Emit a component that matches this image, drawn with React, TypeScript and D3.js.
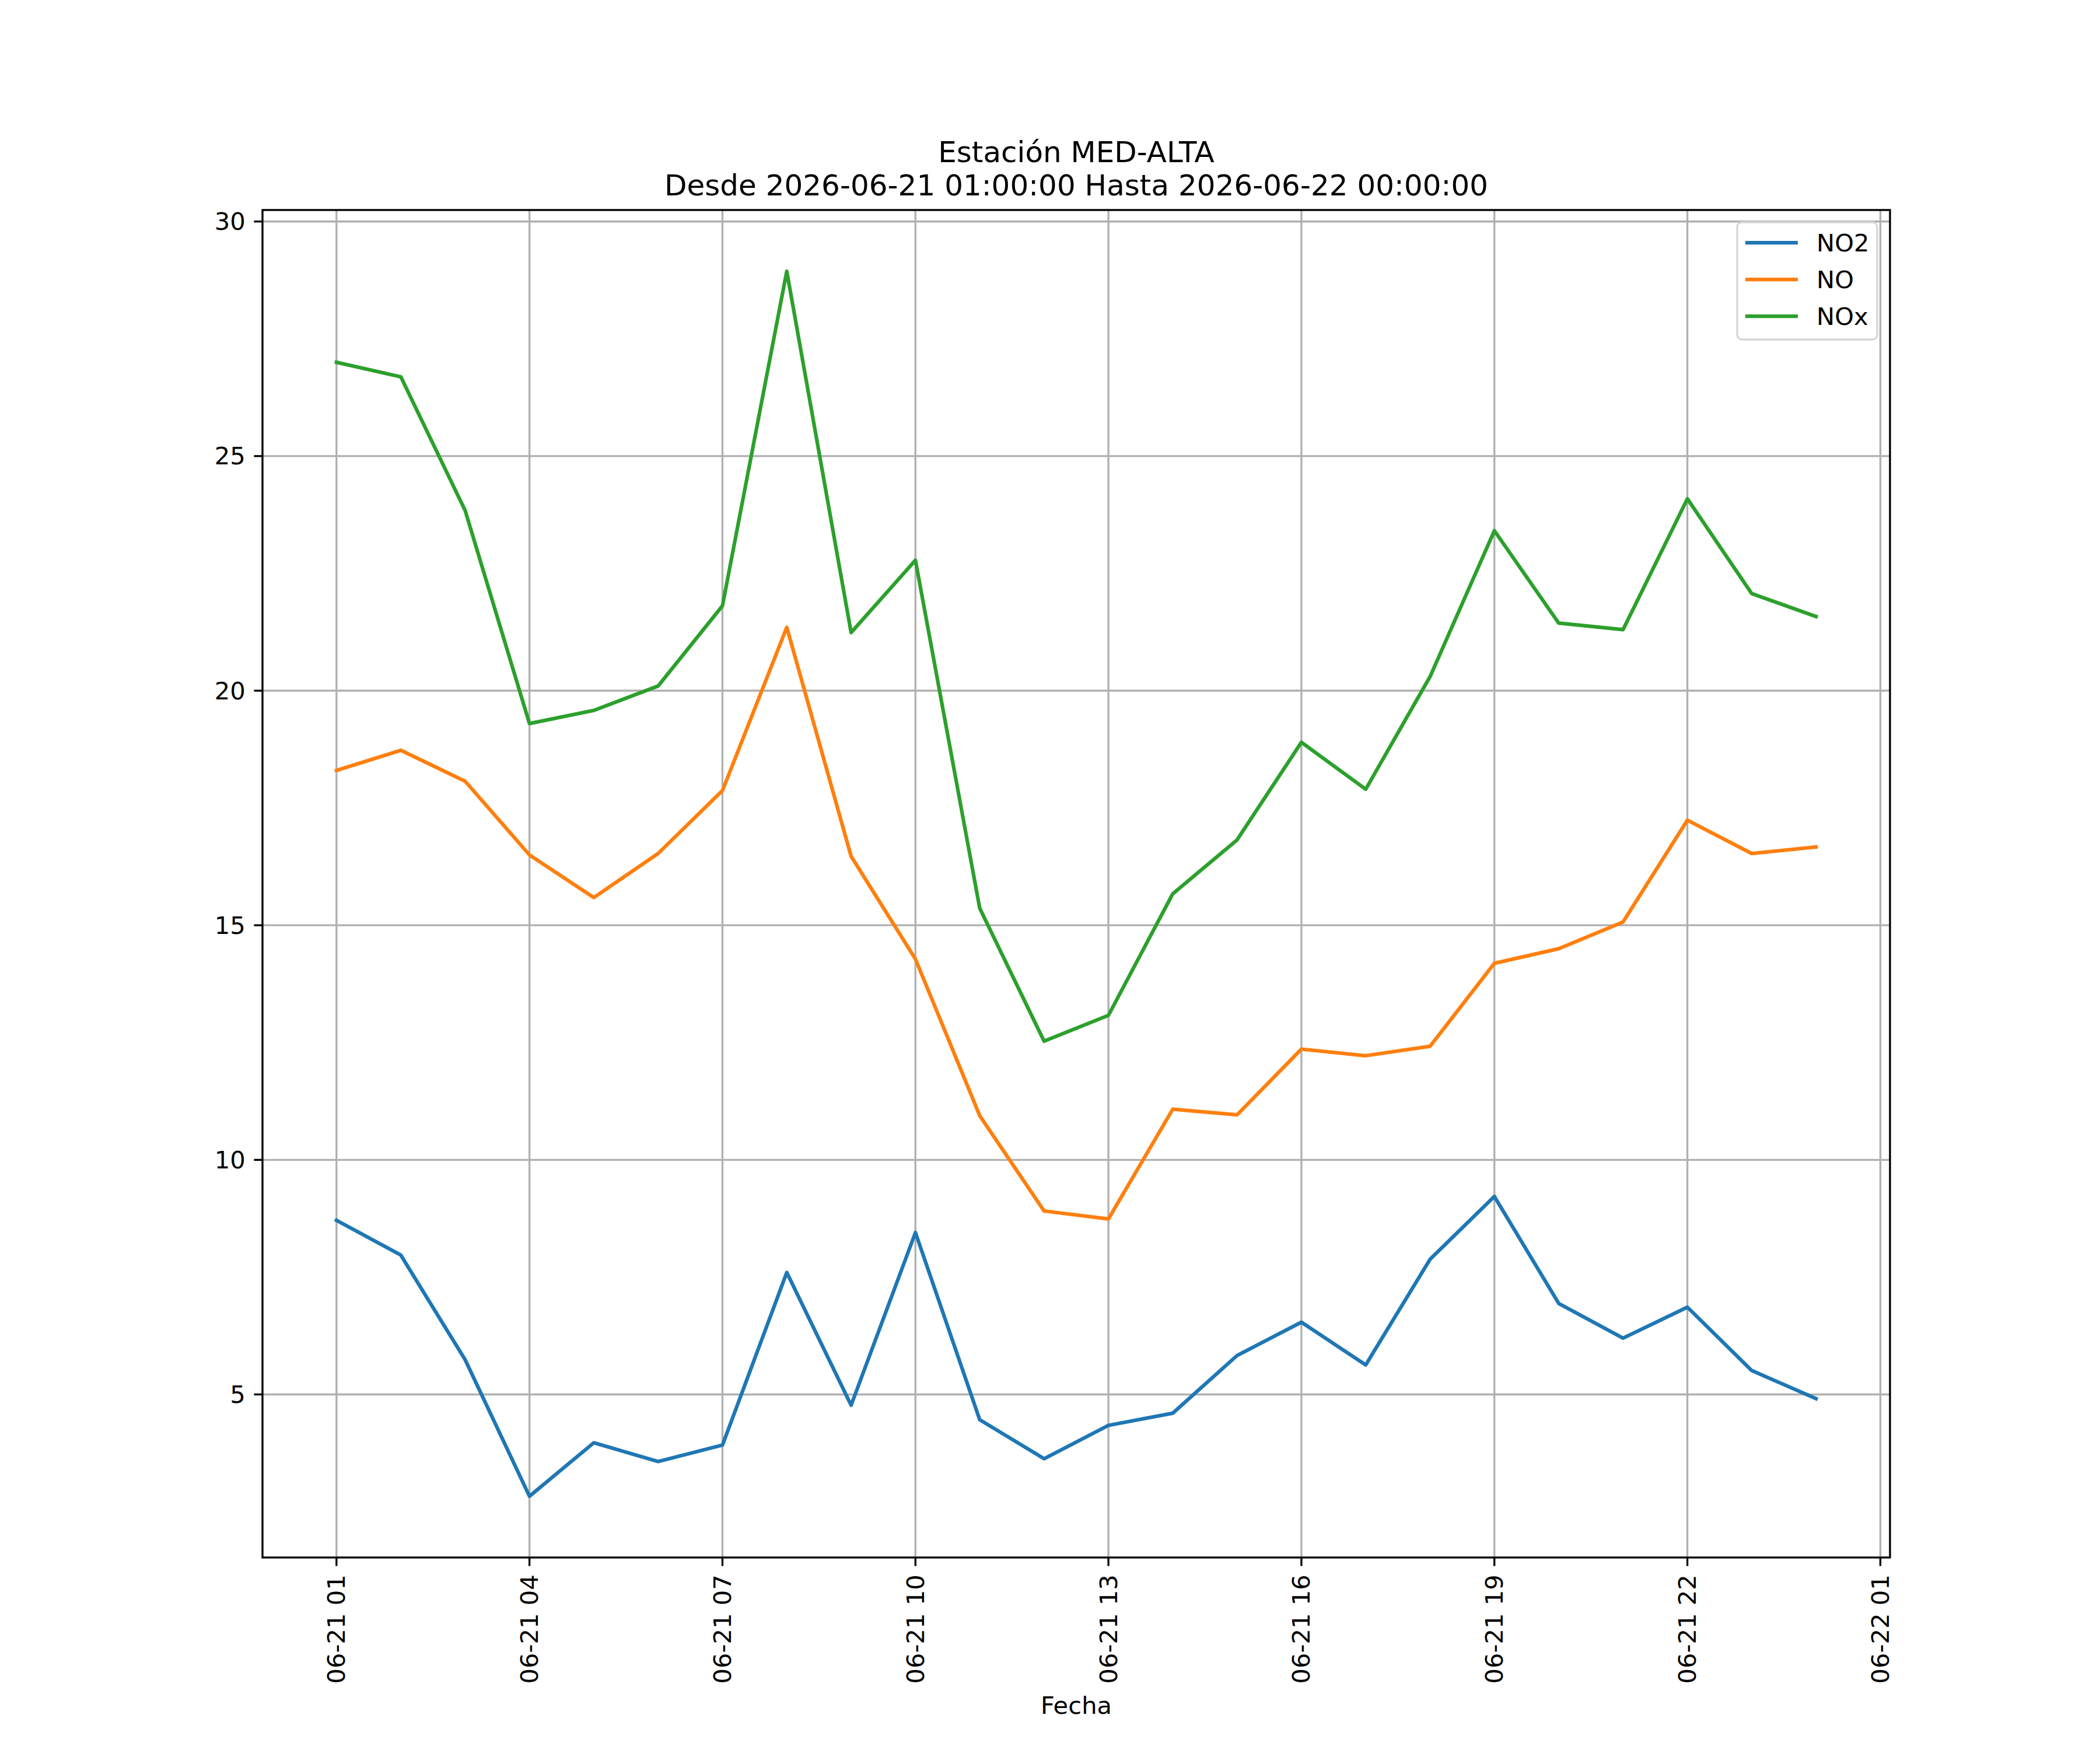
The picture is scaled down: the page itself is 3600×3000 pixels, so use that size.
import React from "react";
import * as d3 from "d3";

// hourly readings, station MED-ALTA
const times = [
  "2026-06-21T01:00", "2026-06-21T02:00", "2026-06-21T03:00", "2026-06-21T04:00",
  "2026-06-21T05:00", "2026-06-21T06:00", "2026-06-21T07:00", "2026-06-21T08:00",
  "2026-06-21T09:00", "2026-06-21T10:00", "2026-06-21T11:00", "2026-06-21T12:00",
  "2026-06-21T13:00", "2026-06-21T14:00", "2026-06-21T15:00", "2026-06-21T16:00",
  "2026-06-21T17:00", "2026-06-21T18:00", "2026-06-21T19:00", "2026-06-21T20:00",
  "2026-06-21T21:00", "2026-06-21T22:00", "2026-06-21T23:00", "2026-06-22T00:00",
];

const no2 = [
  8.71, 7.97, 5.74, 2.83, 3.97, 3.57, 3.92, 7.60, 4.77, 8.45, 4.46, 3.63,
  4.34, 4.60, 5.83, 6.54, 5.63, 7.88, 9.22, 6.94, 6.20, 6.86, 5.51, 4.91,
];
const no = [
  18.30, 18.73, 18.07, 16.50, 15.59, 16.53, 17.87, 21.35, 16.47, 14.28, 10.94, 8.91,
  8.74, 11.08, 10.96, 12.36, 12.22, 12.42, 14.19, 14.50, 15.07, 17.24, 16.53, 16.67,
];
const nox = [
  27.00, 26.69, 23.84, 19.30, 19.58, 20.10, 21.81, 28.94, 21.24, 22.78, 15.36, 12.53,
  13.08, 15.67, 16.82, 18.90, 17.90, 20.30, 23.41, 21.44, 21.30, 24.09, 22.07, 21.58,
];

const seriesNames = ["NO2", "NO", "NOx"];
const seriesColors = ["#1f77b4", "#ff7f0e", "#2ca02c"];

const title1 = "Estación MED-ALTA";
const title2 = "Desde 2026-06-21 01:00:00 Hasta 2026-06-22 00:00:00";
const xLabel = "Fecha";

const W = 3600;
const H = 3000;
const FONT = "DejaVu Sans";

export default function App() {
  const margin = { left: 450, right: 360, top: 360, bottom: 330 };
  const plotW = W - margin.left - margin.right;
  const plotH = H - margin.top - margin.bottom;

  const dates = times.map((t) => new Date(t + ":00Z"));
  const series = [no2, no, nox];

  // matplotlib style 5% margins
  const t0 = +dates[0];
  const t1 = +dates[dates.length - 1];
  const padT = (t1 - t0) * 0.05;
  const x = d3
    .scaleUtc()
    .domain([new Date(t0 - padT), new Date(t1 + padT)])
    .range([0, plotW]);

  const allVals = series.flat();
  const vMin = d3.min(allVals) as number;
  const vMax = d3.max(allVals) as number;
  const padV = (vMax - vMin) * 0.05;
  const y = d3
    .scaleLinear()
    .domain([vMin - padV, vMax + padV])
    .range([plotH, 0]);

  const xTicks = d3.utcHour
    .range(x.domain()[0], new Date(+x.domain()[1] + 1))
    .filter((d) => (d.getUTCHours() + 23) % 3 === 0);
  const fmt = d3.utcFormat("%m-%d %H");
  const yTicks = y.ticks(6);

  const line = d3
    .line<number>()
    .x((_, i) => x(dates[i]))
    .y((d) => y(d));

  const tickLen = 14.6;
  const tickPad = 14.6;
  const fs = 41.67;

  // legend box
  const lg = { x: 2978, y: 381, w: 240, h: 201 };

  return (
    <>
      <style>{`body{margin:0}`}</style>
      <svg width={W} height={H} style={{ display: "block", background: "#fff" }} fontFamily={FONT}>
        <rect width={W} height={H} fill="#fff" />
        <text x={margin.left + plotW / 2} y={278} fontSize={50} textAnchor="middle">
          {title1}
        </text>
        <text x={margin.left + plotW / 2} y={335} fontSize={50} textAnchor="middle">
          {title2}
        </text>

        <g transform={`translate(${margin.left},${margin.top})`}>
          <defs>
            <clipPath id="plot-clip">
              <rect width={plotW} height={plotH} />
            </clipPath>
          </defs>

          {/* grid */}
          {xTicks.map((d, i) => (
            <line key={"gx" + i} x1={x(d)} x2={x(d)} y1={0} y2={plotH} stroke="#b0b0b0" strokeWidth={3.33} />
          ))}
          {yTicks.map((v, i) => (
            <line key={"gy" + i} x1={0} x2={plotW} y1={y(v)} y2={y(v)} stroke="#b0b0b0" strokeWidth={3.33} />
          ))}

          {/* series */}
          <g clipPath="url(#plot-clip)">
            {series.map((s, i) => (
              <path
                key={seriesNames[i]}
                d={line(s) || ""}
                fill="none"
                stroke={seriesColors[i]}
                strokeWidth={6.25}
                strokeLinejoin="round"
                strokeLinecap="square"
              />
            ))}
          </g>

          {/* spines */}
          <rect width={plotW} height={plotH} fill="none" stroke="#000" strokeWidth={3.33} />

          {/* x ticks */}
          {xTicks.map((d, i) => (
            <g key={"xt" + i} transform={`translate(${x(d)},${plotH})`}>
              <line y1={0} y2={tickLen} stroke="#000" strokeWidth={3.33} />
              <text
                transform={`translate(0,${tickLen + tickPad}) rotate(-90)`}
                fontSize={fs}
                textAnchor="end"
                dominantBaseline="central"
              >
                {fmt(d)}
              </text>
            </g>
          ))}

          {/* y ticks */}
          {yTicks.map((v, i) => (
            <g key={"yt" + i} transform={`translate(0,${y(v)})`}>
              <line x1={0} x2={-tickLen} stroke="#000" strokeWidth={3.33} />
              <text x={-tickLen - tickPad} fontSize={fs} textAnchor="end" dominantBaseline="central">
                {v}
              </text>
            </g>
          ))}
        </g>

        <text x={margin.left + plotW / 2} y={2938} fontSize={fs} textAnchor="middle">
          {xLabel}
        </text>

        {/* legend */}
        <g>
          <rect
            x={lg.x}
            y={lg.y}
            width={lg.w}
            height={lg.h}
            rx={8}
            fill="#fff"
            fillOpacity={0.8}
            stroke="#d6d6d6"
            strokeWidth={3.33}
          />
          {seriesNames.map((name, i) => {
            const cy = 416 + i * 63;
            return (
              <g key={"lg" + name}>
                <line x1={2992} x2={3082} y1={cy} y2={cy} stroke={seriesColors[i]} strokeWidth={6.25} />
                <text x={3114} y={cy} fontSize={fs} dominantBaseline="central">
                  {name}
                </text>
              </g>
            );
          })}
        </g>
      </svg>
    </>
  );
}
